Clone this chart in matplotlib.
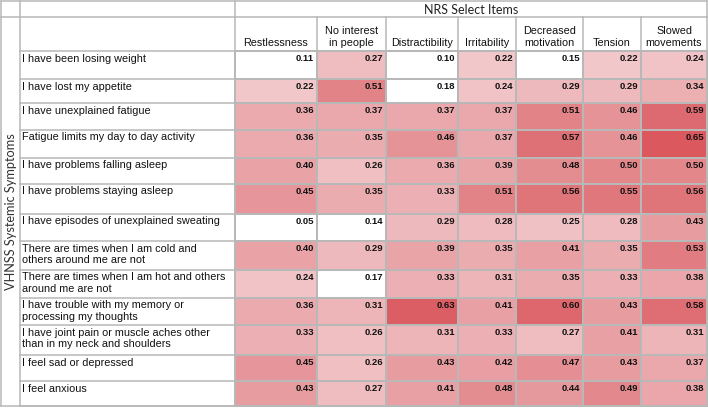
import numpy as np
import matplotlib.pyplot as plt
from matplotlib.colors import LinearSegmentedColormap, Normalize

# data
columns = ["Restlessness", "No interest\nin people", "Distractibility", "Irritability",
           "Decreased\nmotivation", "Tension", "Slowed\nmovements"]
rows = [
    "I have been losing weight",
    "I have lost my appetite",
    "I have unexplained fatigue",
    "Fatigue limits my day to day activity",
    "I have problems falling asleep",
    "I have problems staying asleep",
    "I have episodes of unexplained sweating",
    "There are times when I am cold and\nothers around me are not",
    "There are times when I am hot and others\naround me are not",
    "I have trouble with my memory or\nprocessing my thoughts",
    "I have joint pain or muscle aches other\nthan in my neck and shoulders",
    "I feel sad or depressed",
    "I feel anxious",
]
values = np.array([
    [0.11, 0.27, 0.10, 0.22, 0.15, 0.22, 0.24],
    [0.22, 0.51, 0.18, 0.24, 0.29, 0.29, 0.34],
    [0.36, 0.37, 0.37, 0.37, 0.51, 0.46, 0.59],
    [0.36, 0.35, 0.46, 0.37, 0.57, 0.46, 0.65],
    [0.40, 0.26, 0.36, 0.39, 0.48, 0.50, 0.50],
    [0.45, 0.35, 0.33, 0.51, 0.56, 0.55, 0.56],
    [0.05, 0.14, 0.29, 0.28, 0.25, 0.28, 0.43],
    [0.40, 0.29, 0.39, 0.35, 0.41, 0.35, 0.53],
    [0.24, 0.17, 0.33, 0.31, 0.35, 0.33, 0.38],
    [0.36, 0.31, 0.63, 0.41, 0.60, 0.43, 0.58],
    [0.33, 0.26, 0.31, 0.33, 0.27, 0.41, 0.31],
    [0.45, 0.26, 0.43, 0.42, 0.47, 0.43, 0.37],
    [0.43, 0.27, 0.41, 0.48, 0.44, 0.49, 0.38],
])
top_title = "NRS Select Items"
side_title = "VHNSS Systemic Symptoms"

# layout (pixels)
W, H = 708, 409
x_edges = np.array([235, 317, 386, 458, 516, 583, 641, 707])
y_edges = np.array([51, 79, 103, 130, 158, 184, 214, 241, 270, 298, 325, 355, 381, 406])
left, side_right, top, top_mid = 1, 20, 1, 17
grid = "#B8B8B8"

fig = plt.figure(figsize=(W / 100, H / 100), dpi=100)
ax = fig.add_axes([0, 0, 1, 1])
ax.set_xlim(0, W)
ax.set_ylim(H, 0)
ax.axis("off")

cmap = LinearSegmentedColormap.from_list("reds", ["#F3CBCE", "#E79CA0", "#D9555B"])
cmap.set_under("white")
norm = Normalize(vmin=0.2, vmax=0.66)
ax.pcolormesh(x_edges, y_edges, values, cmap=cmap, norm=norm,
              edgecolor=grid, linewidth=1.4)

lw = 1.1
# horizontal lines in label column
for y in y_edges:
    ax.plot([side_right, x_edges[0]], [y, y], color=grid, lw=lw)
ax.plot([left, W - 1], [top, top], color=grid, lw=lw)
ax.plot([left, W - 1], [top_mid, top_mid], color=grid, lw=lw)
ax.plot([left, x_edges[-1]], [y_edges[-1], y_edges[-1]], color=grid, lw=lw)
# vertical lines
for x in [left, side_right]:
    ax.plot([x, x], [top, y_edges[-1]], color=grid, lw=lw)
for x in x_edges:
    ax.plot([x, x], [top_mid, y_edges[-1]], color=grid, lw=lw)
ax.plot([x_edges[0], x_edges[0]], [top, top_mid], color=grid, lw=lw)
ax.plot([x_edges[-1], x_edges[-1]], [top, top_mid], color=grid, lw=lw)

lab_font = "Liberation Sans"
ax.text((x_edges[0] + x_edges[-1]) / 2, (top + top_mid) / 2 + 0.5, top_title,
        ha="center", va="center", fontsize=9, family="Lato", color="#222222")
ax.text((left + side_right) / 2 + 0.5, (top_mid + y_edges[-1]) / 2, side_title,
        ha="center", va="center", rotation=90, fontsize=9.2, family="Lato", color="#333333")

for j, c in enumerate(columns):
    ax.text((x_edges[j] + x_edges[j + 1]) / 2, y_edges[0] - 3, c, ha="center", va="bottom",
            fontsize=7.8, family=lab_font, linespacing=1.3, color="#111111")

for i, r in enumerate(rows):
    ax.text(side_right + 2.5, y_edges[i] + 2.5, r, ha="left", va="top",
            fontsize=7.8, family=lab_font, linespacing=1.22, color="#111111")
    for j in range(len(columns)):
        ax.text(x_edges[j + 1] - 3, y_edges[i] + 3, f"{values[i, j]:.2f}", ha="right",
                va="top", fontsize=6.8, family=lab_font, fontweight="bold", color="#111111")

fig.savefig("out.png", dpi=100)
